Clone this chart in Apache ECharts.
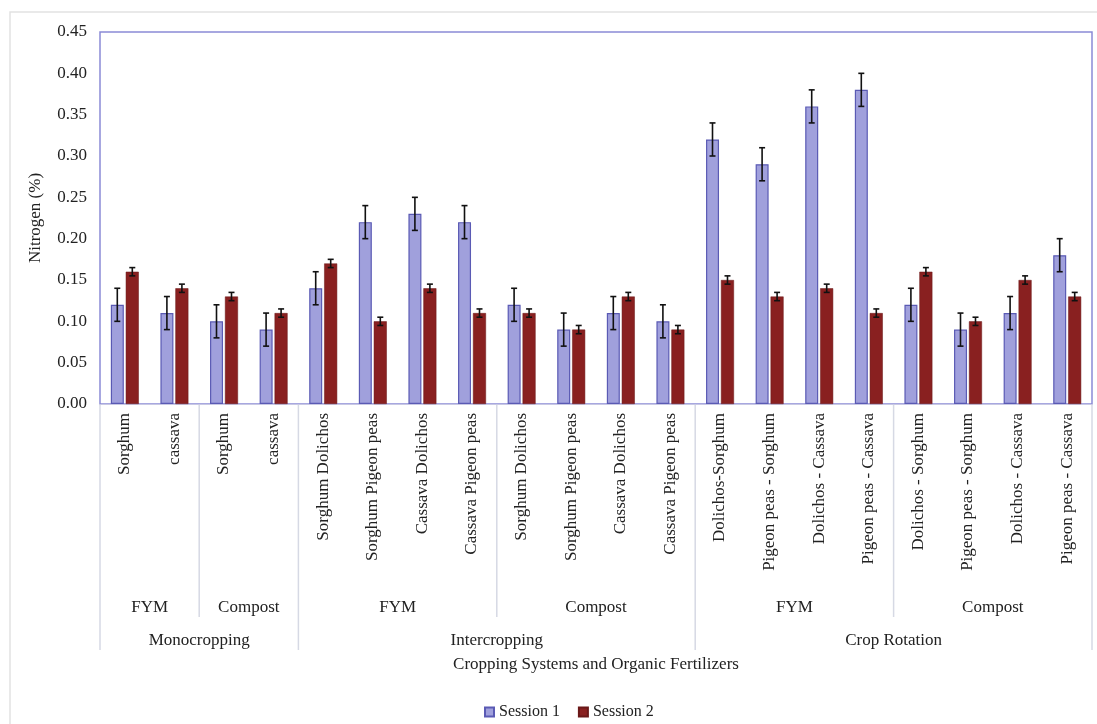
<!DOCTYPE html>
<html>
<head>
<meta charset="utf-8">
<script src="https://cdn.jsdelivr.net/npm/echarts@6/dist/echarts.min.js"></script>
<style>
html,body{margin:0;padding:0;background:#fff;}
#chart{width:1097px;height:724px;}
</style>
</head>
<body>
<div id="chart"></div>
<script>
var categories = [
  'Sorghum','cassava',
  'Sorghum','cassava',
  'Sorghum Dolichos','Sorghum Pigeon peas','Cassava Dolichos','Cassava Pigeon peas',
  'Sorghum Dolichos','Sorghum Pigeon peas','Cassava Dolichos','Cassava Pigeon peas',
  'Dolichos-Sorghum','Pigeon peas - Sorghum','Dolichos - Cassava','Pigeon peas - Cassava',
  'Dolichos - Sorghum','Pigeon peas - Sorghum','Dolichos - Cassava','Pigeon peas - Cassava'
];
var session1 = [0.12,0.11,0.10,0.09, 0.14,0.22,0.23,0.22, 0.12,0.09,0.11,0.10, 0.32,0.29,0.36,0.38, 0.12,0.09,0.11,0.18];
var session2 = [0.16,0.14,0.13,0.11, 0.17,0.10,0.14,0.11, 0.11,0.09,0.13,0.09, 0.15,0.13,0.14,0.11, 0.16,0.10,0.15,0.13];
var session1Err = [0.02,0.02,0.02,0.02, 0.02,0.02,0.02,0.02, 0.02,0.02,0.02,0.02, 0.02,0.02,0.02,0.02, 0.02,0.02,0.02,0.02];
var session2Err = [0.005,0.005,0.005,0.005, 0.005,0.005,0.005,0.005, 0.005,0.005,0.005,0.005, 0.005,0.005,0.005,0.005, 0.005,0.005,0.005,0.005];
var level2Names = ['FYM','Compost','FYM','Compost','FYM','Compost'];
var level2Spans = [2,2,4,4,4,4];
var level1Names = ['Monocropping','Intercropping','Crop Rotation'];
var level1Spans = [4,8,8];
var yTicks = [0,0.05,0.10,0.15,0.20,0.25,0.30,0.35,0.40,0.45];

var FONT = '"Liberation Serif","Times New Roman",serif';
var BAR_W = 13, HALF_OFF = 7.5;

function errData(vals, errs){
  return vals.map(function(v,i){ return [i, v - errs[i], v + errs[i]]; });
}
function errRender(offset){
  return function(params, api){
    var x = api.value(0);
    var lo = api.coord([x, api.value(1)]);
    var hi = api.coord([x, api.value(2)]);
    var cx = lo[0] + offset;
    var cap = 3;
    var st = {stroke:'#111', lineWidth:1.6};
    return {type:'group', children:[
      {type:'line', shape:{x1:cx,y1:hi[1],x2:cx,y2:lo[1]}, style:st},
      {type:'line', shape:{x1:cx-cap,y1:hi[1],x2:cx+cap,y2:hi[1]}, style:st},
      {type:'line', shape:{x1:cx-cap,y1:lo[1],x2:cx+cap,y2:lo[1]}, style:st}
    ]};
  };
}

var chart = echarts.init(document.getElementById('chart'), null, {renderer:'canvas'});
var option = {
  backgroundColor:'#fff',
  animation:false,
  textStyle:{fontFamily:FONT},
  grid:{left:100, top:32, right:5, bottom:320, show:true, borderColor:'#8a8ad6', borderWidth:1.5, backgroundColor:'transparent', containLabel:false},
  legend:{
    left:479, top:699, itemWidth:9, itemHeight:9, itemGap:18, icon:'rect',
    textStyle:{fontFamily:FONT, fontSize:16, color:'#222'},
    data:['Session 1','Session 2']
  },
  xAxis:{
    type:'category', data:categories,
    axisLine:{show:true, lineStyle:{color:'#c8c8e4', width:1}},
    axisTick:{show:false},
    axisLabel:{interval:0, rotate:90, margin:9, fontFamily:FONT, fontSize:17, color:'#222'},
    name:'Cropping Systems and Organic Fertilizers', nameLocation:'middle', nameGap:252,
    nameTextStyle:{fontFamily:FONT, fontSize:17, color:'#222'}
  },
  yAxis:{
    type:'value', min:0, max:0.45, interval:0.05,
    axisLine:{show:false}, axisTick:{show:false}, splitLine:{show:false},
    axisLabel:{margin:13, fontFamily:FONT, fontSize:17, color:'#222', formatter:function(v){return v.toFixed(2);}},
    name:'Nitrogen (%)', nameLocation:'middle', nameGap:56, nameRotate:90,
    nameTextStyle:{fontFamily:FONT, fontSize:17, color:'#222'}
  },
  series:[
    {name:'Session 1', type:'bar', data:session1, barWidth:BAR_W, barGap:'15%',
     itemStyle:{color:'#a0a0dc', borderColor:'#5a5ab4', borderWidth:1.2}},
    {name:'Session 2', type:'bar', data:session2, barWidth:BAR_W, barGap:'15%',
     itemStyle:{color:'#892020', borderColor:'#6a1818', borderWidth:0.5}},
    {type:'custom', data:errData(session1, session1Err), renderItem:errRender(-HALF_OFF), z:5, silent:true, encode:{x:0,y:[1,2]}},
    {type:'custom', data:errData(session2, session2Err), renderItem:errRender(HALF_OFF), z:5, silent:true, encode:{x:0,y:[1,2]}}
  ]
};
chart.setOption(option);

// group separators and group labels, positioned from the category scale
function boundaryX(idx){
  var a = chart.convertToPixel({xAxisIndex:0}, 0);
  var b = chart.convertToPixel({xAxisIndex:0}, 1);
  var w = b - a;
  return a - w/2 + idx*w;
}
var axisY = chart.convertToPixel({yAxisIndex:0}, 0);
var els = [];
var lineStyle = {stroke:'#d6d9e4', lineWidth:1.5};
var pos = 0, b1 = [0];
level1Spans.forEach(function(s){ pos += s; b1.push(pos); });
b1.forEach(function(i){
  var x = boundaryX(i);
  els.push({type:'line', shape:{x1:x,y1:axisY,x2:x,y2:axisY+246}, style:lineStyle, silent:true});
});
pos = 0;
level2Spans.forEach(function(s, k){
  var start = pos; pos += s;
  if (b1.indexOf(pos) < 0) {
    var x = boundaryX(pos);
    els.push({type:'line', shape:{x1:x,y1:axisY,x2:x,y2:axisY+213}, style:lineStyle, silent:true});
  }
  var cx = (boundaryX(start) + boundaryX(pos)) / 2;
  els.push({type:'text', x:cx, y:axisY+204, style:{text:level2Names[k], font:'17px '+FONT, fill:'#222', align:'center', verticalAlign:'middle'}, silent:true});
});
pos = 0;
level1Spans.forEach(function(s, k){
  var start = pos; pos += s;
  var cx = (boundaryX(start) + boundaryX(pos)) / 2;
  els.push({type:'text', x:cx, y:axisY+237, style:{text:level1Names[k], font:'17px '+FONT, fill:'#222', align:'center', verticalAlign:'middle'}, silent:true});
});
els.push({type:'rect', shape:{x:10,y:12,width:1100,height:720}, style:{fill:'none', stroke:'#e2e2e2', lineWidth:1.5}, silent:true, z:-10});
chart.setOption({graphic:{elements:els}});
</script>
</body>
</html>
